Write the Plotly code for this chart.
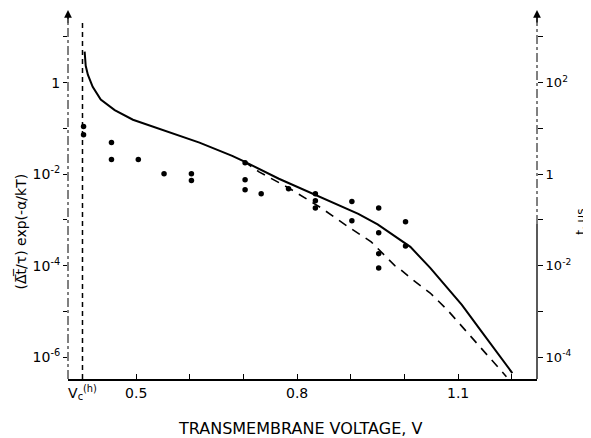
import numpy as np
import plotly.graph_objects as go

# Values (voltage in V, log10 of left-axis quantity)
solid_v = [0.404, 0.406, 0.410, 0.419, 0.434, 0.460, 0.494, 0.557, 0.618, 0.679, 0.701, 0.766,
           0.834, 0.882, 0.914, 0.950, 0.987, 1.011, 1.048, 1.067, 1.107, 1.141, 1.201]
solid_log10 = [0.68, 0.37, 0.175, -0.09, -0.37, -0.60, -0.81, -1.07, -1.31, -1.60, -1.72, -2.10,
               -2.45, -2.70, -2.87, -3.10, -3.39, -3.59, -4.05, -4.31, -4.86, -5.40, -6.35]

dash_v = [0.701, 0.729, 0.784, 0.845, 0.895, 0.938, 0.982, 0.993, 1.011, 1.048, 1.080, 1.141, 1.190]
dash_log10 = [-1.72, -1.95, -2.30, -2.74, -3.15, -3.48, -4.00, -4.09, -4.27, -4.60, -4.97, -5.78, -6.43]

pts_v = [0.402, 0.402, 0.454, 0.454, 0.504, 0.552, 0.603, 0.603, 0.703, 0.703, 0.703, 0.733,
         0.784, 0.834, 0.834, 0.834, 0.902, 0.902, 0.952, 0.952, 0.952, 0.952, 1.002, 1.002]
pts_log10 = [-0.96, -1.14, -1.31, -1.68, -1.68, -1.99, -1.99, -2.14, -1.75, -2.12, -2.34, -2.43,
             -2.32, -2.43, -2.58, -2.74, -2.60, -3.02, -2.74, -3.28, -3.74, -4.05, -3.04, -3.57]

vc = 0.40
x_tickvals = [0.4, 0.5, 0.6, 0.7, 0.8, 0.9, 1.0, 1.1, 1.2]
x_ticktext = ["V<sub>c</sub><sup>(h)</sup>", "0.5", "", "", "0.8", "", "", "1.1", ""]
left_tickvals = [1, 1e-2, 1e-4, 1e-6]
left_ticktext = ["1", "10<sup>-2</sup>", "10<sup>-4</sup>", "10<sup>-6</sup>"]
left_minor = [10, 1e-1, 1e-3, 1e-5]
right_tickvals = [1e2, 1, 1e-2, 1e-4]
right_ticktext = ["10<sup>2</sup>", "1", "10<sup>-2</sup>", "10<sup>-4</sup>"]
right_minor = [1e3, 10, 1e-1, 1e-3]

solid_y = [10 ** v for v in solid_log10]
dash_y = [10 ** v for v in dash_log10]
pts_y = [10 ** v for v in pts_log10]

FONT = "DejaVu Sans"
fig = go.Figure()
fig.add_trace(go.Scatter(x=solid_v, y=solid_y, mode="lines",
                         line=dict(color="black", width=2),
                         showlegend=False, hoverinfo="skip"))
fig.add_trace(go.Scatter(x=dash_v, y=dash_y, mode="lines",
                         line=dict(color="black", width=1.6, dash="9px,7px"),
                         showlegend=False, hoverinfo="skip"))
fig.add_trace(go.Scatter(x=pts_v, y=pts_y, mode="markers",
                         marker=dict(color="black", size=5.5),
                         showlegend=False, hoverinfo="skip"))
# invisible trace to anchor right axis
fig.add_trace(go.Scatter(x=[1.0], y=[1.0], yaxis="y2", mode="markers",
                         marker=dict(opacity=0), showlegend=False, hoverinfo="skip"))

# page body has an 8px margin, so the figure is sized to fit the window
fig.update_layout(
    width=583, height=430,
    margin=dict(l=60, r=54, t=2, b=59),
    paper_bgcolor="white", plot_bgcolor="white",
    font=dict(family=FONT, size=13, color="black"),
    xaxis=dict(range=[0.373, 1.247], showgrid=False, zeroline=False,
               showline=True, linecolor="black", linewidth=1.5,
               tickmode="array", tickvals=x_tickvals, ticktext=x_ticktext,
               ticks="inside", ticklen=5, tickwidth=1.2, tickcolor="black",
               tickfont=dict(size=14)),
    yaxis=dict(type="log", range=[-6.48, 1.59], showgrid=False, zeroline=False,
               showline=False,
               tickmode="array", tickvals=left_tickvals, ticktext=left_ticktext,
               ticks="outside", ticklen=4, tickwidth=1, tickcolor="black",
               tickfont=dict(size=14),
               minor=dict(tickmode="array", tickvals=left_minor, ticks="outside",
                          ticklen=4, tickcolor="black")),
    yaxis2=dict(type="log", range=[-4.48, 3.59], overlaying="y", side="right",
                showgrid=False, zeroline=False, showline=False,
                tickmode="array", tickvals=right_tickvals, ticktext=right_ticktext,
                ticks="outside", ticklen=5, tickwidth=1, tickcolor="black",
                tickfont=dict(size=13),
                minor=dict(tickmode="array", tickvals=right_minor, ticks="outside",
                           ticklen=5, tickcolor="black")),
)

# left axis (dash-dot), right axis (dashed upper, solid lower), V_c line
fig.add_shape(type="line", xref="paper", yref="paper", x0=0, x1=0, y0=0, y1=0.99,
              line=dict(color="black", width=1, dash="dashdot"))
fig.add_shape(type="line", xref="paper", yref="paper", x0=1, x1=1, y0=0.42, y1=0.985,
              line=dict(color="black", width=1, dash="dashdot"))
fig.add_shape(type="line", xref="paper", yref="paper", x0=1, x1=1, y0=0, y1=0.42,
              line=dict(color="black", width=1.3))
fig.add_shape(type="line", xref="x", yref="paper", x0=vc, x1=vc, y0=0, y1=0.975,
              line=dict(color="black", width=1.5, dash="5px,4px"))

# arrows at top of axes
for xp in (0, 1):
    fig.add_annotation(xref="paper", yref="paper", x=xp, y=1.0, ax=0, ay=14,
                       showarrow=True, arrowhead=2, arrowsize=1.2, arrowwidth=1.3,
                       arrowcolor="black", text="")

fig.add_annotation(xref="paper", yref="paper", x=-0.100, y=0.40, textangle=-90,
                   xanchor="center", yanchor="middle",
                   text="(\u0394\u0305t\u0305/\u03c4) exp(-\u03b1/kT)", showarrow=False,
                   font=dict(size=14, family=FONT))
fig.add_annotation(xref="paper", yref="paper", x=1.095, y=0.425, textangle=-90,
                   xanchor="center", yanchor="middle",
                   text="t, \u03bcs", showarrow=False, font=dict(size=12, family=FONT))
fig.add_annotation(xref="paper", yref="paper", x=0.495, y=-0.1355,
                   xanchor="center", yanchor="middle",
                   text="TRANSMEMBRANE VOLTAGE, V", showarrow=False,
                   font=dict(size=16, family=FONT))

fig.write_html("out.html")
